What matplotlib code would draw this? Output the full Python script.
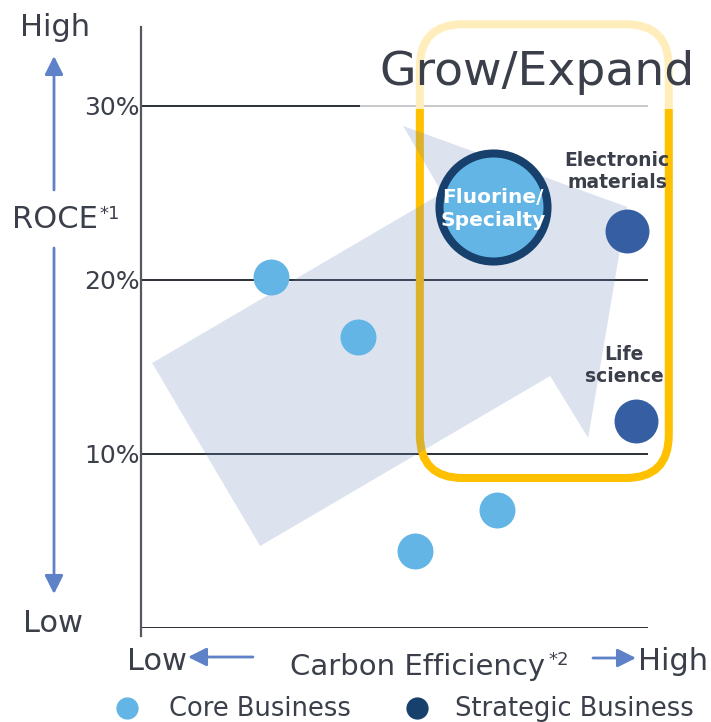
import matplotlib
matplotlib.use("Agg")
import matplotlib.pyplot as plt
from matplotlib.patches import Polygon, FancyBboxPatch, Rectangle

W, H = 711, 722

# data (x = carbon efficiency, arbitrary 0-10 scale; y = ROCE %)
core_x = [2.56, 4.28, 5.40, 7.02]
core_y = [20.2, 16.7, 4.4, 6.8]
strat_names = ["Electronic\nmaterials", "Life\nscience"]
strat_x = [9.59, 9.76]
strat_y = [22.8, 11.9]
fluor_x, fluor_y = 6.94, 24.2
fluor_name = "Fluorine/\nSpecialty"
grid_vals = [0, 10, 20, 30]
tick_vals = [10, 20, 30]
tick_labels = ["10%", "20%", "30%"]

# big background arrow outline (data coords)
arrow_x = [0.22, 5.94, 5.17, 9.59, 8.82, 8.07, 2.35]
arrow_y = [15.23, 25.0, 28.85, 24.2, 10.92, 14.48, 4.71]

light = "#62B5E5"
mid = "#365EA3"
navy = "#17406D"
txt = "#3A3F4A"
blue_arrow = "#5F81C8"

fig = plt.figure(figsize=(W / 100, H / 100), dpi=100)
ax = fig.add_axes([141 / W, 1 - 628 / H, (648 - 141) / W, (628 - 27) / H])
ax.set_xlim(0, 10)
ax.set_ylim(0, 34.54)
for s in ax.spines.values():
    s.set_visible(False)

def fx(px):
    return px / W

def fy(py):
    return 1 - py / H

# grid lines + left spine
ax.hlines(grid_vals, 0, 10, color="#1A1F26", lw=1.3, zorder=1)
ax.plot([0, 0], [-0.45, 34.54], color="#55595F", lw=1.6, clip_on=False, zorder=1)

ax.set_xticks([])
ax.set_yticks(tick_vals)
ax.set_yticklabels(tick_labels, fontsize=18, color=txt)
ax.tick_params(axis="y", length=0, pad=1)

# yellow "Grow/Expand" box
box = FancyBboxPatch((5.50, 8.62), 10.41 - 5.50, 34.7 - 8.62,
                     boxstyle="round,pad=0,rounding_size=0.85",
                     mutation_aspect=50.7 / 17.4,
                     fill=False, ec="#FFC000", lw=5.8, clip_on=False, zorder=2)
ax.add_patch(box)

# translucent arrow
ax.add_patch(Polygon(list(zip(arrow_x, arrow_y)), closed=True, fc="#6887BE",
                     ec="none", alpha=0.23, zorder=3))

# points
ax.scatter(core_x, core_y, s=670, color=light, lw=0, zorder=4, clip_on=False)
ax.scatter(strat_x, strat_y, s=1000, color=mid, lw=0, zorder=4, clip_on=False)
ax.scatter([fluor_x], [fluor_y], s=6050, color=light, ec=navy, lw=5.8, zorder=4)

ax.text(fluor_x, fluor_y - 0.1, fluor_name, color="white", fontsize=14.5,
        fontweight="bold", ha="center", va="center", linespacing=1.25, zorder=5)
ax.text(9.39, 26.26, strat_names[0], color=txt, fontsize=13.5, fontweight="bold",
        ha="center", va="center", linespacing=1.2, zorder=5)
ax.text(9.53, 15.06, strat_names[1], color=txt, fontsize=13.5, fontweight="bold",
        ha="center", va="center", linespacing=1.2, zorder=5)

# white haze over top of the box
ax.add_patch(Rectangle((4.32, 29.8), 7.0, 6.5, fc="white", ec="none", alpha=0.74,
                       clip_on=False, zorder=6))
ax.text(7.81, 31.95, "Grow/Expand", fontsize=34, color=txt, ha="center",
        va="center", zorder=7)

# axis annotation arrows
aprops = dict(arrowstyle="-|>,head_length=0.4,head_width=0.2", color=blue_arrow,
              lw=2, mutation_scale=28, shrinkA=0, shrinkB=0)
for tip, tail in [((54, 56), (54, 190)), ((54, 594), (54, 248)),
                  ((188, 657), (253, 657)), ((636, 658), (593, 658))]:
    ax.annotate("", xy=(fx(tip[0]), fy(tip[1])), xytext=(fx(tail[0]), fy(tail[1])),
                xycoords="figure fraction", textcoords="figure fraction",
                arrowprops=aprops)

fig.text(fx(55), fy(28), "High", fontsize=22, color=txt, ha="center", va="center")
fig.text(fx(98), fy(220), "ROCE", fontsize=22, color=txt, ha="right", va="center")
fig.text(fx(99), fy(214), "*1", fontsize=13, color=txt, ha="left", va="center")
fig.text(fx(53), fy(623), "Low", fontsize=22, color=txt, ha="center", va="center")
fig.text(fx(157), fy(662), "Low", fontsize=22, color=txt, ha="center", va="center")
fig.text(fx(545), fy(667), "Carbon Efficiency", fontsize=21, color=txt,
         ha="right", va="center")
fig.text(fx(548), fy(660), "*2", fontsize=13, color=txt, ha="left", va="center")
fig.text(fx(673), fy(661), "High", fontsize=22, color=txt, ha="center", va="center")

# legend
ax.plot([fx(127)], [fy(708)], "o", ms=16, color=light, mec="none",
        transform=fig.transFigure, clip_on=False)
ax.plot([fx(417)], [fy(708)], "o", ms=16, color=navy, mec="none",
        transform=fig.transFigure, clip_on=False)
fig.text(fx(169), fy(716), "Core Business", fontsize=18.5, color=txt,
         ha="left", va="baseline")
fig.text(fx(455), fy(716), "Strategic Business", fontsize=18.5, color=txt,
         ha="left", va="baseline")

ax.set_xlim(0, 10)
ax.set_ylim(0, 34.54)
fig.savefig("out.png", dpi=100)
